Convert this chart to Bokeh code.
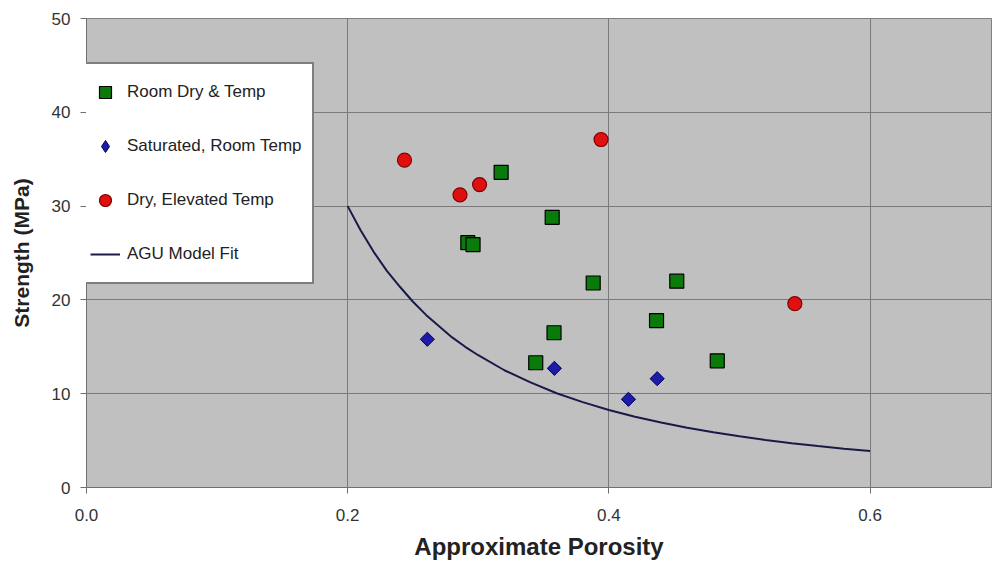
from bokeh.plotting import figure
from bokeh.models import Range1d, FixedTicker, NumeralTickFormatter, Legend, LegendItem
from bokeh.embed import file_html
from bokeh.resources import INLINE

# Room Dry & Temp
room_x = [0.3175, 0.3566, 0.292, 0.296, 0.388, 0.452, 0.4365, 0.358, 0.344, 0.483]
room_y = [33.6, 28.8, 26.1, 25.9, 21.8, 22.0, 17.8, 16.5, 13.3, 13.5]

# Saturated, Room Temp
sat_x = [0.261, 0.3583, 0.437, 0.415]
sat_y = [15.8, 12.7, 11.6, 9.4]

# Dry, Elevated Temp
dry_x = [0.2435, 0.286, 0.301, 0.394, 0.5424]
dry_y = [34.9, 31.2, 32.3, 37.1, 19.6]

# AGU Model Fit
fit_x = [0.20, 0.21, 0.22, 0.23, 0.24, 0.25, 0.26, 0.27, 0.28, 0.29, 0.30,
         0.32, 0.34, 0.36, 0.38, 0.40, 0.42, 0.44, 0.46, 0.48, 0.50,
         0.52, 0.54, 0.56, 0.58, 0.60]
fit_y = [30.0, 27.4, 25.1, 23.1, 21.4, 19.8, 18.4, 17.2, 16.0, 15.0, 14.1,
         12.5, 11.2, 10.05, 9.1, 8.27, 7.55, 6.92, 6.37, 5.89, 5.46,
         5.07, 4.73, 4.42, 4.14, 3.89]

x_ticks = [0.0, 0.2, 0.4, 0.6]
y_ticks = [0, 10, 20, 30, 40, 50]

FONT = "Liberation Sans"

p = figure(width=993, height=568, output_backend="svg", toolbar_location=None,
           x_range=Range1d(0, 0.693), y_range=Range1d(0, 50))
p.min_border_left = 86
p.min_border_right = 2
p.min_border_top = 18
p.min_border_bottom = 81
p.background_fill_color = "#C0C0C0"
p.border_fill_color = "white"
p.outline_line_color = "#808080"

p.xaxis.ticker = FixedTicker(ticks=x_ticks)
p.yaxis.ticker = FixedTicker(ticks=y_ticks)
p.xaxis.formatter = NumeralTickFormatter(format="0.0")
p.xgrid.grid_line_color = "#7a7a7a"
p.ygrid.grid_line_color = "#7a7a7a"
p.xgrid.grid_line_width = 1
p.ygrid.grid_line_width = 1

for ax in (p.xaxis[0], p.yaxis[0]):
    ax.axis_line_color = "#707070"
    ax.major_tick_line_color = "#707070"
    ax.minor_tick_line_color = None
    ax.major_tick_in = 0
    ax.major_tick_out = 6
    ax.major_label_text_font = FONT
    ax.major_label_text_font_size = "17px"
    ax.major_label_text_color = "#333333"
    ax.axis_label_text_font = FONT
    ax.axis_label_text_font_style = "bold"
    ax.axis_label_text_color = "#222222"

p.xaxis.axis_label = "Approximate Porosity"
p.yaxis.axis_label = "Strength (MPa)"
p.xaxis.axis_label_text_font_size = "24px"
p.yaxis.axis_label_text_font_size = "21px"
p.xaxis.major_label_standoff = 15
p.yaxis.major_label_standoff = 10
p.xaxis.axis_label_standoff = 9
p.yaxis.axis_label_standoff = 16

r_room = p.scatter(room_x, room_y, marker="square", size=14,
                   fill_color="#0a7a0a", line_color="#000000", line_width=1.2)
r_sat = p.scatter(sat_x, sat_y, marker="square", size=10, angle=0.785398,
                  fill_color="#1c1ca8", line_color="#000060", line_width=1)
# legend-only glyph for the diamond symbol (not drawn in the plot)
r_sat_leg = p.scatter(sat_x, sat_y, marker="diamond", size=14, visible=False,
                      fill_color="#1c1ca8", line_color="#000060", line_width=1)
r_dry = p.scatter(dry_x, dry_y, marker="circle", size=14,
                  fill_color="#e01010", line_color="#800000", line_width=1.2)
r_fit = p.line(fit_x, fit_y, line_color="#1a1a48", line_width=2)

legend = Legend(items=[
    LegendItem(label="Room Dry & Temp", renderers=[r_room]),
    LegendItem(label="Saturated, Room Temp", renderers=[r_sat_leg]),
    LegendItem(label="Dry, Elevated Temp", renderers=[r_dry]),
    LegendItem(label="AGU Model Fit", renderers=[r_fit]),
], location=(-2, 203))
legend.padding = 4
legend.spacing = 6
legend.label_height = 48
legend.glyph_height = 48
legend.glyph_width = 30
legend.label_width = 181
legend.label_standoff = 7
legend.label_text_font = FONT
legend.label_text_font_size = "17px"
legend.label_text_color = "#222222"
legend.border_line_color = "black"
legend.border_line_width = 2
legend.background_fill_color = "white"
legend.background_fill_alpha = 1
legend.inactive_fill_alpha = 0
legend.margin = 0
p.add_layout(legend, "center")

open("out.html", "w").write(file_html(p, INLINE))
